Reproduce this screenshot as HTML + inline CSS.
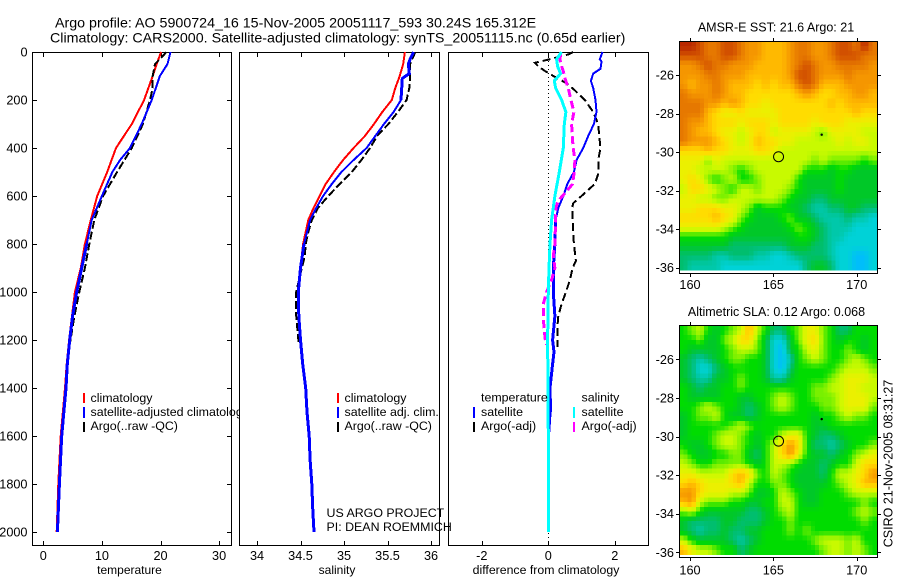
<!DOCTYPE html>
<html lang="en">
<head>
<meta charset="utf-8">
<title>Argo profile 5900724_16</title>
<style>
html,body{margin:0;padding:0;background:#fff;}
svg{display:block;}
text{font-family:"Liberation Sans",sans-serif;fill:#000;}
</style>
</head>
<body>
<svg id="chart" width="900" height="580" viewBox="0 0 900 580" xmlns="http://www.w3.org/2000/svg">
  <rect x="0" y="0" width="900" height="580" fill="#fff"/>
  <text x="55" y="27.5" font-size="14.25">Argo profile: AO 5900724_16 15-Nov-2005 20051117_593 30.24S 165.312E</text>
  <text x="50" y="42.5" font-size="14.25">Climatology: CARS2000. Satellite-adjusted climatology: synTS_20051115.nc (0.65d earlier)</text>

  <g id="panel-t"></g>
  <g id="legend-t">
    <rect x="83" y="393" width="2" height="10" fill="#f00"/>
    <text x="90.5" y="402" font-size="12.4">climatology</text>
    <rect x="83" y="407" width="2" height="11" fill="#00f"/>
    <text x="90.5" y="416" font-size="12.4">satellite-adjusted climatology</text>
    <rect x="83" y="422" width="2" height="10" fill="#000"/>
    <text x="90.5" y="430" font-size="12.4">Argo(..raw -QC)</text>
  </g>

  <g id="panel-s"></g>
  <g id="legend-s">
    <rect x="337" y="393" width="2" height="10" fill="#f00"/>
    <text x="344.5" y="402" font-size="12.4">climatology</text>
    <rect x="337" y="407" width="2" height="11" fill="#00f"/>
    <text x="344.5" y="416" font-size="12.4">satellite adj. clim.</text>
    <rect x="337" y="422" width="2" height="10" fill="#000"/>
    <text x="344.5" y="430" font-size="12.4">Argo(..raw -QC)</text>
  </g>

  <g id="panel-d"></g>
  <g id="legend-d">
    <text x="481" y="401.5" font-size="12.4">temperature</text>
    <rect x="473" y="407" width="2" height="11" fill="#00f"/>
    <text x="481" y="416" font-size="12.4">satellite</text>
    <rect x="473" y="422" width="2" height="10" fill="#000"/>
    <text x="481" y="430" font-size="12.4">Argo(-adj)</text>
    <text x="581.5" y="401.5" font-size="12.4">salinity</text>
    <rect x="573" y="407" width="2" height="11" fill="#0ff"/>
    <text x="581.5" y="416" font-size="12.4">satellite</text>
    <rect x="573" y="422" width="2" height="10" fill="#f0f"/>
    <text x="581.5" y="430" font-size="12.4">Argo(-adj)</text>
  </g>

  <text x="326.5" y="517" font-size="12.4">US ARGO PROJECT</text>
  <text x="326.5" y="531" font-size="12.4">PI: DEAN ROEMMICH</text>

  <g id="map-sst"></g>
  <g id="map-sla"></g>
  <text x="776" y="31.5" font-size="12.5" text-anchor="middle">AMSR-E SST: 21.6 Argo: 21</text>
  <text x="776.5" y="316" font-size="12.5" text-anchor="middle">Altimetric SLA: 0.12 Argo: 0.068</text>
  <text transform="translate(892.5 463.5) rotate(-90)" font-size="12.5" text-anchor="middle">CSIRO 21-Nov-2005 08:31:27</text>
</svg>

<script>
// ---- profile data ----
const depthTicks = [0, 200, 400, 600, 800, 1000, 1200, 1400, 1600, 1800, 2000];
const tempTicks = [0, 10, 20, 30];
const salTicks = [34, 34.5, 35, 35.5, 36];
const salTickLabels = ['34', '34.5', '35', '35.5', '36'];
const diffTicks = [-2, 0, 2];

const tempClimDepths = [0, 50, 100, 200, 300, 400, 500, 600, 700, 800, 900, 1000, 1100, 1200, 1300, 1400, 1600, 1800, 2000];
const tempClimValues = [20.1, 19.35, 18.67, 17.2, 15.1, 12.4, 10.9, 9.2, 8.1, 7.1, 6.4, 5.4, 4.9, 4.4, 4.0, 3.7, 2.97, 2.56, 2.28];
const tempSatDepths = [0, 50, 100, 150, 200, 300, 400, 450, 500, 600, 700, 800, 900, 1000, 1100, 1200, 1300, 1400, 1600, 1800, 2000];
const tempSatValues = [21.7, 21.2, 19.9, 19.2, 18.5, 16.8, 14.8, 13.1, 11.8, 10, 8.26, 7.4, 6.55, 5.7, 5.0, 4.5, 4.1, 3.87, 3.14, 2.74, 2.4];
const tempArgoDepths = [0, 30, 50, 100, 150, 200, 300, 400, 500, 600, 700, 800, 900, 1000, 1100, 1220];
const tempArgoValues = [21.0, 19.9, 19.06, 18.67, 18.67, 18.2, 17, 15.1, 12.6, 10.2, 8.7, 7.85, 7.1, 6.15, 5.3, 4.5];

const salClimDepths = [0, 50, 100, 150, 200, 250, 300, 350, 400, 450, 500, 550, 600, 650, 700, 800, 900, 1000, 1100, 1200, 1300, 1400, 1600, 2000];
const salClimValues = [35.7, 35.68, 35.64, 35.59, 35.55, 35.44, 35.345, 35.24, 35.11, 34.99, 34.885, 34.79, 34.72, 34.65, 34.59, 34.53, 34.5, 34.475, 34.48, 34.5, 34.53, 34.56, 34.595, 34.655];
const salSatDepths = [0, 30, 50, 90, 110, 200, 250, 300, 350, 400, 450, 500, 550, 600, 650, 700, 800, 900, 1000, 1100, 1200, 1300, 1400, 1500, 1600, 1700, 1800, 1900, 2000];
const salSatValues = [35.8, 35.76, 35.74, 35.75, 35.67, 35.655, 35.57, 35.46, 35.36, 35.26, 35.11, 34.97, 34.86, 34.76, 34.68, 34.61, 34.54, 34.5, 34.475, 34.48, 34.5, 34.525, 34.56, 34.575, 34.6, 34.61, 34.63, 34.64, 34.655];
const salArgoDepths = [0, 50, 100, 150, 200, 250, 300, 350, 400, 450, 500, 550, 600, 650, 700, 750, 800, 850, 900, 1000, 1100, 1220];
const salArgoValues = [35.82, 35.76, 35.76, 35.75, 35.72, 35.62, 35.51, 35.38, 35.3, 35.2, 35.09, 34.95, 34.82, 34.7, 34.63, 34.59, 34.56, 34.55, 34.515, 34.45, 34.45, 34.48];

const diffTempSatDepths = [0, 30, 40, 70, 90, 120, 150, 200, 250, 300, 350, 400, 450, 500, 550, 600, 650, 700, 800, 900, 1000, 1100, 1200, 1250, 1300, 1400, 1500, 1600, 1670];
const diffTempSatValues = [1.63, 1.55, 1.6, 1.57, 1.35, 1.28, 1.35, 1.42, 1.45, 1.37, 1.2, 1.05, 0.85, 0.77, 0.57, 0.45, 0.3, 0.22, 0.2, 0.15, 0.15, 0.2, 0.13, 0.17, 0.13, 0.05, 0.07, 0.02, 0.01];
const diffTempArgoDepths = [0, 10, 30, 45, 60, 80, 100, 130, 160, 200, 250, 300, 350, 400, 450, 500, 550, 600, 630, 650, 700, 800, 870, 900, 950, 1000, 1050, 1100, 1150, 1230];
const diffTempArgoValues = [0.75, 0.6, 0.05, -0.4, -0.3, -0.09, 0.15, 0.55, 0.8, 1.1, 1.35, 1.5, 1.53, 1.57, 1.5, 1.52, 1.4, 1.0, 0.75, 0.72, 0.73, 0.77, 0.83, 0.73, 0.65, 0.53, 0.4, 0.3, 0.27, 0.27];
const diffSalSatDepths = [0, 30, 60, 90, 120, 150, 200, 250, 300, 400, 500, 600, 700, 800, 900, 1000, 1200, 1400, 1600, 2000];
const diffSalSatValues = [0.4, 0.25, 0.28, 0.37, 0.18, 0.22, 0.4, 0.53, 0.48, 0.45, 0.33, 0.2, 0.1, 0.05, 0.02, 0, -0.02, -0.01, 0, 0];
const diffSalArgoDepths = [10, 30, 60, 80, 110, 150, 200, 250, 300, 350, 400, 450, 500, 550, 580, 620, 650, 700, 800, 850, 900, 950, 1000, 1050, 1100, 1150, 1200, 1220];
const diffSalArgoValues = [0.37, 0.35, 0.4, 0.45, 0.5, 0.6, 0.68, 0.77, 0.7, 0.72, 0.75, 0.8, 0.78, 0.73, 0.55, 0.3, 0.23, 0.22, 0.2, 0.15, 0.2, 0.1, -0.05, -0.15, -0.15, -0.13, -0.09, -0.05];

// ---- map data: colour-scale level per cell, north to south, west to east ----
const colourScale = [[185,40,0],[210,80,0],[230,120,0],[245,150,0],[255,185,0],[255,220,0],[235,240,0],[200,250,0],[120,240,0],[0,220,0],[0,200,40],[0,190,110],[0,200,170],[0,210,215],[0,190,250]];
const mapLonTicks = [160, 165, 170];
const mapLatTicks = [-26, -28, -30, -32, -34, -36];
const argoLon = [165.312];
const argoLat = [-30.24];
const markerLon = [167.9];
const markerLat = [-29.1];
const sstLevels = [
[0,0,1,2,2,1,1,2,3,3,4,4,4,3,2,2,3,3,2,1,1,2,0,2],
[1,1,1,2,2,1,1,2,3,3,4,4,4,3,2,2,3,3,2,1,1,1,2,2],
[3,3,2,1,2,2,3,3,3,4,4,4,4,3,2,1,2,3,3,2,2,2,2,3],
[3,3,3,2,2,3,3,3,4,4,4,4,4,3,1,1,2,3,3,3,2,3,3,3],
[3,4,3,3,2,3,4,4,4,5,4,5,4,4,2,1,2,4,4,4,3,3,3,3],
[2,3,3,3,2,3,4,4,5,5,5,5,5,5,4,3,4,5,5,4,4,3,3,4],
[2,2,2,3,3,4,3,4,5,5,6,5,5,5,5,5,5,5,4,5,4,4,4,4],
[2,2,2,4,5,6,6,5,6,6,6,6,5,5,5,5,5,5,5,5,5,4,5,5],
[2,3,3,4,5,5,5,6,5,5,5,6,5,5,5,5,6,5,5,5,6,6,6,6],
[2,3,4,4,5,6,6,7,6,5,5,7,6,6,6,6,7,8,6,6,6,6,7,7],
[2,3,3,3,4,5,6,7,6,4,5,5,6,6,7,7,7,7,7,6,7,6,6,7],
[5,5,5,4,5,5,6,6,6,5,5,6,7,7,7,7,7,7,7,7,7,7,7,7],
[6,6,6,8,6,7,7,7,7,7,7,7,7,7,7,7,8,7,8,8,8,8,9,8],
[6,6,7,7,7,7,8,9,8,7,7,7,7,7,7,9,9,9,10,9,9,10,10,10],
[6,5,6,8,9,8,7,9,9,8,7,7,7,7,9,10,10,10,10,9,10,10,10,10],
[7,5,5,6,7,8,9,7,7,8,7,7,7,8,9,10,10,10,10,9,10,10,10,10],
[6,6,7,7,8,8,7,7,7,7,7,7,8,9,10,10,11,11,10,10,10,10,10,10],
[6,6,5,5,5,6,6,7,8,10,9,9,9,10,10,11,12,12,11,11,10,10,11,11],
[5,5,5,5,4,5,6,8,9,10,10,10,9,8,10,10,11,12,12,12,11,12,12,13],
[6,6,6,6,6,7,8,9,10,10,10,10,10,9,8,9,10,11,12,12,12,13,13,13],
[9,9,9,9,9,9,10,10,10,10,10,10,10,10,9,9,10,11,12,12,13,13,13,13],
[10,10,10,10,10,10,11,11,11,11,11,11,11,10,10,10,11,11,12,13,13,13,13,13],
[11,11,11,11,12,12,11,11,11,12,12,13,13,12,11,11,11,11,12,13,13,14,14,13],
[11,12,12,12,12,13,13,13,13,13,13,13,13,13,13,11,10,10,11,13,13,14,14,13]
];
const slaLevels = [
[9,8,7,9,10,9,8,7,4,7,9,11,11,9,8,6,6,8,9,11,11,9,9,9],
[9,9,8,10,10,8,7,5,5,8,10,13,13,10,8,6,5,8,9,10,9,9,10,9],
[9,10,10,10,10,9,8,7,7,8,10,13,14,10,9,7,6,8,9,9,8,9,10,9],
[10,11,12,11,10,9,8,8,9,9,10,13,14,12,9,8,7,8,9,9,8,7,8,9],
[10,11,13,13,11,10,9,9,9,9,10,13,14,11,9,9,9,9,9,8,7,7,7,8],
[10,11,12,12,10,10,9,8,9,9,10,12,12,10,9,9,9,9,8,7,6,6,6,7],
[9,10,11,10,10,9,9,8,9,9,9,9,9,9,9,9,8,8,7,7,6,6,7,7],
[9,10,10,10,10,9,9,10,10,9,9,8,7,8,9,9,8,8,8,7,6,6,6,7],
[9,9,8,7,8,9,9,10,11,10,9,8,7,8,9,9,9,8,8,7,6,6,6,8],
[10,9,8,8,7,9,10,10,11,10,9,9,9,9,9,9,10,9,9,8,7,8,8,9],
[10,9,9,9,9,9,8,7,8,9,9,9,9,9,9,9,10,10,9,9,9,9,9,9],
[10,9,9,9,8,7,7,8,9,10,9,9,7,6,6,9,10,11,11,10,9,9,9,9],
[9,10,10,9,8,7,7,8,9,10,9,7,5,3,5,9,11,11,12,11,10,9,9,8],
[8,9,10,10,9,9,8,8,10,11,9,7,5,3,6,9,10,10,11,10,9,8,7,6],
[7,8,9,9,8,8,8,8,9,10,9,7,7,8,9,10,10,11,10,9,9,7,5,5],
[6,6,7,7,7,7,5,4,5,8,9,7,8,9,10,10,10,11,9,7,7,6,5,3],
[5,4,5,6,6,6,5,4,7,9,9,8,8,9,10,10,10,10,9,8,7,6,4,4],
[3,3,5,6,6,6,7,7,8,10,10,9,7,8,9,10,10,9,9,9,8,7,7,7],
[4,3,7,8,8,8,9,9,10,10,9,9,7,7,9,10,10,9,9,9,9,9,8,9],
[8,7,9,10,10,10,10,10,11,11,10,9,8,7,9,9,9,9,9,9,9,8,7,8],
[10,11,11,11,11,10,10,11,11,11,10,9,9,8,9,9,9,9,9,9,9,9,8,9],
[10,11,12,11,11,10,11,11,10,10,9,9,9,8,9,8,9,9,9,9,9,9,9,9],
[7,9,10,10,10,10,11,12,11,10,9,9,9,9,9,9,8,7,7,7,8,7,9,9],
[4,6,7,7,8,9,9,11,10,9,9,9,9,9,9,9,9,8,7,7,8,7,8,9]
];

// ---- axis functions ----
const SVGNS = 'http://www.w3.org/2000/svg';
function yDepth(d) { return 52 + d * 0.24; }
function xTemp(t) { return 43.3 + t * 5.86; }
function xSal(s) { return 344 + (s - 35) * 87; }
function xDiff(v) { return 548.3 + v * 33.25; }
function xLon(lon) { return 690 + (lon - 160) * 16.67; }
function ySstLat(lat) { return 75 + (-lat - 26) * 19.27; }
function ySlaLat(lat) { return 359.3 + (-lat - 26) * 19.3; }

function make(tag, parent, attrs) {
  const el = document.createElementNS(SVGNS, tag);
  for (const k in attrs) el.setAttribute(k, attrs[k]);
  parent.appendChild(el);
  return el;
}

function frame(parent, x0, x1, y0, y1, fill) {
  const el = make('rect', parent, { x: x0 + 0.5, y: y0 + 0.5, width: x1 - x0, height: y1 - y0, fill: fill, stroke: '#000', 'stroke-width': 1, 'shape-rendering': 'crispEdges' });
  
  
}

function tick(parent, x1, y1, x2, y2) {
  const el = make('line', parent, { x1: x1, y1: y1, x2: x2, y2: y2, stroke: '#000', 'stroke-width': 1, 'shape-rendering': 'crispEdges' });
  
  
}

function label(parent, x, y, str, size, anchor) {
  const el = make('text', parent, { x: x, y: y, 'font-size': size, 'text-anchor': anchor });
  el.textContent = str;
  
  
}

function profile(parent, depths, values, xFn, colour, width, dash, name) {
  const pts = depths.map(function (d, i) { return xFn(values[i]).toFixed(1) + ',' + yDepth(d).toFixed(1); }).join(' ');
  const el = make('polyline', parent, { points: pts, fill: 'none', stroke: colour, 'stroke-width': width, 'shape-rendering': 'crispEdges' });
  if (dash) el.setAttribute('stroke-dasharray', dash);
  
  
}

// the near-vertical stretches of the reference lines rasterise thicker: redraw them heavier
function thickStretch(parent, depths, values, xFn, colour, fromDepth, toDepth, name) {
  const ds = [], vs = [];
  depths.forEach(function (d, i) {
    if (d >= fromDepth && d <= toDepth) { ds.push(d); vs.push(values[i]); }
  });
  profile(parent, ds, vs, xFn, colour, 3, null, name);
}

function xAxis(parent, ticks, labels, xFn, title, titleX, titleSize) {
  ticks.forEach(function (t, i) {
    const x = Math.round(xFn(t)) + 0.5;
    tick(parent, x, 53, x, 57);
    tick(parent, x, 541, x, 545);
    label(parent, xFn(t), 560, labels[i], 12.7, 'middle');
  });
  const el = make('text', parent, { x: titleX, y: 574, 'font-size': titleSize, 'text-anchor': 'middle' });
  el.textContent = title;
  
  
}

// temperature panel
const gT = document.getElementById('panel-t');
frame(gT, 32, 231, 52, 545, '#fff');
xAxis(gT, tempTicks, tempTicks.map(String), xTemp, 'temperature', 129.5, 12);
depthTicks.forEach(function (d) {
  const y = Math.round(yDepth(d)) + 0.5;
  tick(gT, 33, y, 37, y);
  tick(gT, 227, y, 231, y);
  label(gT, 27.5, yDepth(d) + 4.5, String(d), 12.7, 'end');
});
profile(gT, tempClimDepths, tempClimValues, xTemp, '#f00', 2, null, 'temperature-climatology-line');
profile(gT, tempArgoDepths, tempArgoValues, xTemp, '#000', 2, '8 3', 'temperature-argo-line');
profile(gT, tempSatDepths, tempSatValues, xTemp, '#00f', 2, null, 'temperature-satellite-line');
thickStretch(gT, tempSatDepths, tempSatValues, xTemp, '#00f', 800, 2000, 'temperature-satellite-deep-line');

// salinity panel
const gS = document.getElementById('panel-s');
frame(gS, 239, 439, 52, 545, '#fff');
xAxis(gS, salTicks, salTickLabels, xSal, 'salinity', 337, 12);
profile(gS, salClimDepths, salClimValues, xSal, '#f00', 2, null, 'salinity-climatology-line');
profile(gS, salArgoDepths, salArgoValues, xSal, '#000', 2, '8 3', 'salinity-argo-line');
profile(gS, salSatDepths, salSatValues, xSal, '#00f', 2, null, 'salinity-satellite-line');
thickStretch(gS, salSatDepths, salSatValues, xSal, '#00f', 800, 2000, 'salinity-satellite-deep-line');
thickStretch(gS, salSatDepths, salSatValues, xSal, '#00f', 0, 200, 'salinity-satellite-shallow-line');

// difference panel
const gD = document.getElementById('panel-d');
frame(gD, 448, 648, 52, 545, '#fff');
xAxis(gD, diffTicks, diffTicks.map(String), xDiff, 'difference from climatology', 546, 12.3);
const zeroLine = make('line', gD, { x1: xDiff(0), y1: 53, x2: xDiff(0), y2: 545, stroke: '#000', 'stroke-width': 1, 'stroke-dasharray': '1 3', 'shape-rendering': 'crispEdges' });


profile(gD, diffTempArgoDepths, diffTempArgoValues, xDiff, '#000', 2, '8 4', 'difference-temperature-argo-line');
profile(gD, diffTempSatDepths, diffTempSatValues, xDiff, '#00f', 2, null, 'difference-temperature-satellite-line');
thickStretch(gD, diffTempSatDepths, diffTempSatValues, xDiff, '#00f', 700, 1500, 'difference-temperature-satellite-deep-line');
profile(gD, diffSalArgoDepths, diffSalArgoValues, xDiff, '#f0f', 3, '8 4', 'difference-salinity-argo-line');
profile(gD, diffSalSatDepths, diffSalSatValues, xDiff, '#0ff', 3, null, 'difference-salinity-satellite-line');

// maps: each level cell is drawn as 2x2 shaded sub-cells so the field looks as fine as the reference
function sampleLevel(levels, u, v) {
  const rows = levels.length, cols = levels[0].length;
  const cu = Math.max(0, Math.min(cols - 1, u));
  const cv = Math.max(0, Math.min(rows - 1, v));
  const c0 = Math.floor(cu), r0 = Math.floor(cv);
  const c1 = Math.min(cols - 1, c0 + 1), r1 = Math.min(rows - 1, r0 + 1);
  const fu = cu - c0, fv = cv - r0;
  return (levels[r0][c0] * (1 - fu) + levels[r0][c1] * fu) * (1 - fv) + (levels[r1][c0] * (1 - fu) + levels[r1][c1] * fu) * fv;
}

function levelColour(level) {
  const i0 = Math.floor(level), i1 = Math.min(colourScale.length - 1, i0 + 1), f = level - i0;
  const c = [0, 1, 2].map(function (k) { return Math.round(colourScale[i0][k] * (1 - f) + colourScale[i1][k] * f); });
  return 'rgb(' + c.join(',') + ')';
}

function drawMap(id, levels, yFn, top, bottom, labelY) {
  const g = document.getElementById(id);
  const lonStart = 159.36, lonStep = 0.4934 / 2, latStart = -24.25, latStep = -0.4946 / 2;
  const left = 679, right = 877;
  const nRows = levels.length * 2, nCols = levels[0].length * 2;
  for (let r = 0; r < nRows; r++) {
    for (let c = 0; c < nCols; c++) {
      const x0 = xLon(lonStart + c * lonStep);
      const x1 = xLon(lonStart + (c + 1) * lonStep);
      const y0 = yFn(latStart + r * latStep);
      const y1 = yFn(latStart + (r + 1) * latStep);
      const level = sampleLevel(levels, (c + 0.5) / 2 - 0.5, (r + 0.5) / 2 - 0.5);
      const cell = make('rect', g, { x: x0.toFixed(2), y: y0.toFixed(2), width: (x1 - x0 + 0.4).toFixed(2), height: (y1 - y0 + 0.4).toFixed(2), fill: levelColour(level), 'shape-rendering': 'crispEdges' });
      
      
    }
  }
  const fr = make('rect', g, { x: left + 0.5, y: top + 0.5, width: right - left, height: bottom - top, fill: 'none', stroke: '#000', 'stroke-width': 1, 'shape-rendering': 'crispEdges' });
  
  
  mapLonTicks.forEach(function (lon) {
    const x = Math.round(xLon(lon)) + 0.5;
    tick(g, x, top - 3, x, top);
    tick(g, x, bottom + 1, x, bottom + 4);
    label(g, xLon(lon), labelY, String(lon), 12.7, 'middle');
  });
  mapLatTicks.forEach(function (lat) {
    const y = Math.round(yFn(lat)) + 0.5;
    tick(g, left - 3, y, left, y);
    tick(g, right + 1, y, right + 4, y);
    label(g, 674, yFn(lat) + 4.5, String(lat), 12.7, 'end');
  });
  const circle = make('circle', g, { cx: xLon(argoLon[0]), cy: yFn(argoLat[0]), r: 5, fill: 'none', stroke: '#000', 'stroke-width': 1 });
  
  
  const mark = make('circle', g, { cx: xLon(markerLon[0]), cy: yFn(markerLat[0]), r: 1.2, fill: '#000' });
  
  
}
drawMap('map-sst', sstLevels, ySstLat, 41, 273, 289);
drawMap('map-sla', slaLevels, ySlaLat, 325, 557, 574.5);
</script>
</body>
</html>
